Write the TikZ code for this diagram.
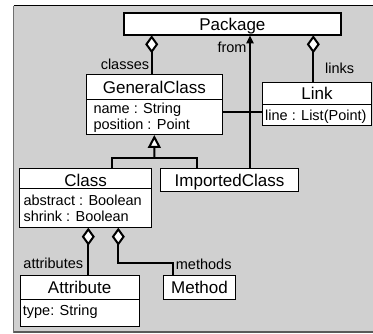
\documentclass[tikz,border=0pt]{standalone}
\usepackage{fontspec}
\setmainfont{Liberation Sans}
\usetikzlibrary{arrows.meta}
\definecolor{panel}{RGB}{208,208,208}
\definecolor{panelleft}{RGB}{112,112,112}
\definecolor{panelbottom}{RGB}{90,90,90}
\begin{document}
\begin{tikzpicture}[x=1pt,y=-1pt,
  box/.style={draw, fill=white, line width=1pt, inner sep=0pt, outer sep=0pt, anchor=north west},
  cname/.style={box, font=\fontsize{17}{20}\selectfont},
  abox/.style={box},
  attr/.style={anchor=base west, inner sep=0pt, font=\fontsize{14.5}{16}\selectfont},
  lbl/.style={inner sep=0pt, font=\fontsize{14.5}{16}\selectfont},
  conn/.style={line width=2pt},
  agg/.style={{Diamond[fill=white,length=18pt,width=13pt]}-},
  gen/.style={-{Triangle[fill=white,length=13pt,width=13pt]}},
  nav/.style={-{Triangle[length=8pt,width=7pt]}}]
\useasboundingbox (0,0) rectangle (373,334);

% grey panel
\fill[panel] (13.5,6) rectangle (373,332.5);
\draw[black, line width=1pt] (13.5,6) -- (373,6);
\draw[panelleft, line width=1.2pt] (13.5,6) -- (13.5,333.5);
\draw[panelbottom, line width=2pt] (13.5,332.5) -- (373,332.5);

% classes
\node[cname, line width=2pt, minimum width=216.7pt, minimum height=22pt,
      text height=17.4pt, text depth=4.6pt] (package) at (124,13.3) {Package};

\node[cname, minimum width=136.7pt, minimum height=24.3pt,
      text height=18.3pt, text depth=6pt] (gcname) at (86,75) {GeneralClass};
\node[abox, minimum width=136.7pt, minimum height=35.7pt] (gcattr) at (86,99.3) {};
\node[attr] (gca1) at (93.3,113.3) {name : String};
\node[attr] (gca2) at (93.3,129.3) {position : Point};

\node[cname, minimum width=109pt, minimum height=22.2pt,
      text height=17pt, text depth=5.2pt] (linkname) at (262.5,82.3) {Link};
\node[abox, minimum width=109pt, minimum height=21.5pt] (linkattr) at (262.5,104.5) {};
\node[attr] (la1) at (265,121) {line : List(Point)};

\node[cname, minimum width=132.2pt, minimum height=19.8pt,
      text height=18.2pt, text depth=1.6pt] (classname) at (19.5,168.5) {Class};
\node[abox, minimum width=132.2pt, minimum height=39.4pt] (classattr) at (19.5,188.3) {};
\node[attr] (ca1) at (23.3,205.7) {abstract : Boolean};
\node[attr] (ca2) at (23.3,221.7) {shrink : Boolean};

\node[cname, minimum width=137.6pt, minimum height=22.8pt,
      text height=18.2pt, text depth=4.6pt] (imported) at (160.7,168.5) {ImportedClass};

\node[cname, minimum width=119.3pt, minimum height=24pt,
      text height=17.3pt, text depth=6.7pt] (attrname) at (20,276) {Attribute};
\node[abox, minimum width=119.3pt, minimum height=26.7pt] (attrattr) at (20,300) {};
\node[attr] (aa1) at (22.7,315.5) {type: String};

\node[cname, minimum width=72.4pt, minimum height=24pt,
      text height=17.3pt, text depth=6.7pt] (method) at (163.3,276) {Method};

% role labels
\node[lbl, anchor=base east] (lclasses) at (149.3,70) {classes};
\node[lbl, anchor=base east] (lfrom) at (246.7,52.7) {from};
\node[lbl, anchor=base west] (llinks) at (325,74) {links};
\node[lbl, anchor=base east] (lattrs) at (83.3,268.3) {attributes};
\node[lbl, anchor=base west] (lmethods) at (175.7,269.3) {methods};

% connector routing points
\coordinate (cx) at (151.7,0);
\coordinate (lx) at (313.3,0);
\coordinate (fx) at (250,0);
\coordinate (as) at (0,111.7);
\coordinate (gj) at (154.35,158.3);
\coordinate (g1) at (112.3,158.3);
\coordinate (g2) at (196.7,158.3);
\coordinate (d1) at (88.3,0);
\coordinate (d2) at (118.3,263.3);
\coordinate (d3) at (172.7,263.3);

% aggregations
\draw[conn, agg] (package.south -| cx) -- (gcname.north -| cx);
\draw[conn, agg] (package.south -| lx) -- (linkname.north -| lx);
\draw[conn, agg] (classattr.south -| d1) -- (attrname.north -| d1);
\draw[conn, agg] (classattr.south -| d2) -- (d2) -- (d3) -- (method.north -| d3);

% navigable association
\draw[conn, nav] (imported.north -| fx) -- (package.south -| fx);

% plain association
\draw[conn] (gcattr.east |- as) -- (linkattr.west |- as);

% generalization
\draw[conn, gen] (gj) -- (gcattr.south);
\draw[conn] (classname.north -| g1) -- (g1) -- (g2) -- (imported.north -| g2);
\end{tikzpicture}
\end{document}
